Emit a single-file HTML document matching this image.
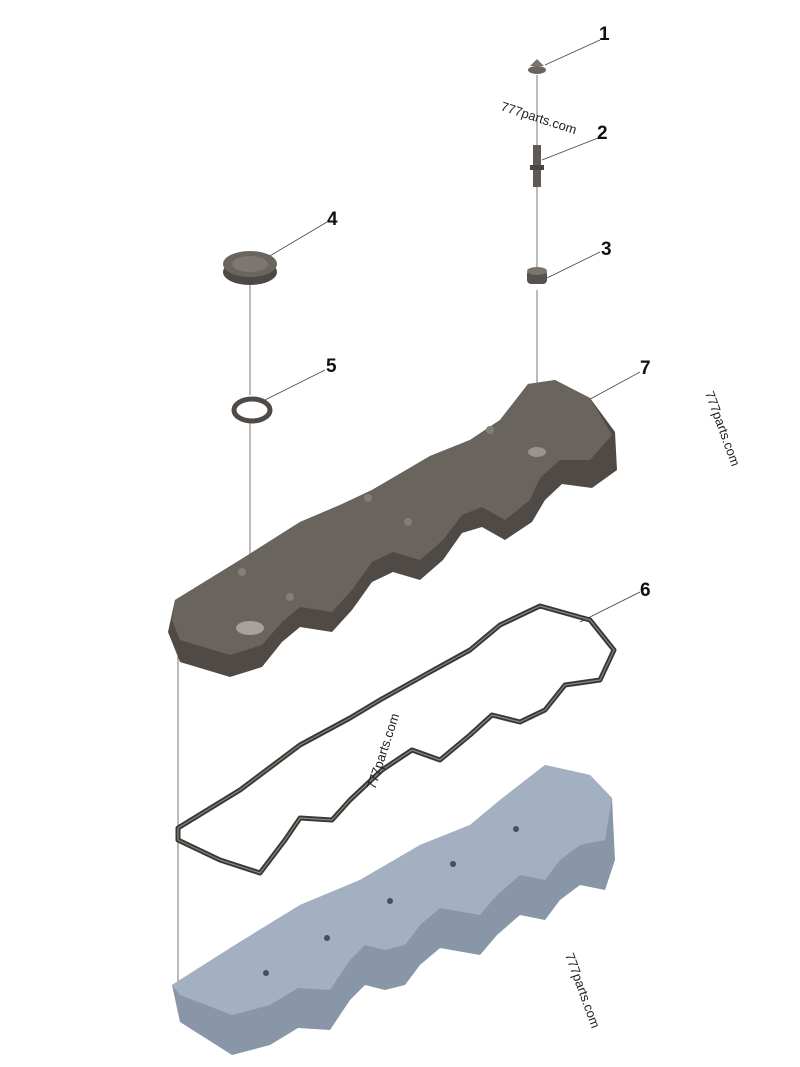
<!DOCTYPE html>
<html><head><meta charset="utf-8"><style>
html,body{margin:0;padding:0;background:#fff;}
svg{display:block;}
text{font-family:"Liberation Sans",sans-serif;}
</style></head><body>
<svg width="800" height="1067" viewBox="0 0 800 1067" xmlns="http://www.w3.org/2000/svg">
<g stroke="#555" stroke-width="0.8">
<line x1="537" y1="75" x2="537" y2="145"/>
<line x1="537" y1="185" x2="537" y2="270"/>
<line x1="537" y1="290" x2="537" y2="450"/>
<line x1="250" y1="285" x2="250" y2="395"/>
<line x1="250" y1="420" x2="250" y2="625"/>
<line x1="178" y1="640" x2="178" y2="990"/>
</g>
<g stroke="#444" stroke-width="0.8">
<line x1="545" y1="65" x2="600" y2="40"/>
<line x1="542" y1="160" x2="598" y2="138"/>
<line x1="547" y1="278" x2="600" y2="252"/>
<line x1="268" y1="257" x2="327" y2="222"/>
<line x1="265" y1="400" x2="325" y2="370"/>
<line x1="583" y1="403" x2="640" y2="372"/>
<line x1="580" y1="622" x2="640" y2="592"/>
</g>
<g font-weight="bold" font-size="19" fill="#111">
<text x="599" y="40">1</text>
<text x="597" y="139">2</text>
<text x="601" y="255">3</text>
<text x="327" y="225">4</text>
<text x="326" y="372">5</text>
<text x="640" y="374">7</text>
<text x="640" y="596">6</text>
</g>
<ellipse cx="537" cy="70" rx="9" ry="4" fill="#6b6560"/>
<path d="M530,66 L537,59 L544,66 Z" fill="#7a746e"/>
<rect x="533" y="145" width="8" height="42" fill="#5f5a55"/>
<rect x="530" y="165" width="14" height="5" fill="#4a4642"/>
<rect x="527" y="270" width="20" height="14" rx="4" fill="#57524d"/>
<ellipse cx="537" cy="271" rx="10" ry="4" fill="#7a746e"/>
<ellipse cx="250" cy="272" rx="27" ry="13" fill="#4c4843"/>
<ellipse cx="250" cy="264" rx="27" ry="13" fill="#6a655f"/>
<ellipse cx="250" cy="264" rx="18" ry="8" fill="#7d7771"/>
<ellipse cx="252" cy="410" rx="18" ry="11" fill="none" stroke="#4f4a45" stroke-width="5"/>
<path d="M175,600 L240,560 L300,522 L340,505 L372,490 L430,456 L470,440 L500,420 L528,384 L555,380 L590,398 L615,432 L617,470 L592,488 L562,484 L545,500 L532,522 L505,540 L482,527 L462,533 L443,560 L420,580 L393,572 L372,582 L352,610 L332,632 L300,627 L282,642 L262,667 L230,677 L180,662 L168,632 Z" fill="#4f4a45"/>
<path d="M175,600 L240,560 L300,522 L340,505 L372,490 L430,456 L470,440 L500,420 L528,384 L555,380 L590,398 L612,435 L590,460 L560,460 L540,478 L530,500 L505,520 L482,507 L462,515 L443,540 L420,560 L393,552 L372,562 L352,590 L332,612 L300,607 L282,622 L262,645 L230,655 L180,640 L172,620 Z" fill="#6a645e"/>
<ellipse cx="250" cy="628" rx="14" ry="7" fill="#a8a29c"/>
<ellipse cx="537" cy="452" rx="9" ry="5" fill="#9a948e"/>
<g fill="#847e78"><circle cx="242" cy="572" r="4"/><circle cx="290" cy="597" r="4"/><circle cx="368" cy="498" r="4"/><circle cx="408" cy="522" r="4"/><circle cx="490" cy="430" r="4"/></g>
<g fill="none" stroke-linejoin="round">
<path id="g6" d="M178,828 L240,790 L300,745 L350,718 L380,700 L430,672 L470,650 L500,625 L540,606 L590,620 L614,650 L600,680 L565,685 L545,710 L520,722 L492,715 L470,735 L440,760 L412,750 L382,770 L350,800 L332,820 L300,818 L285,840 L260,873 L220,860 L178,840 Z" stroke="#3a3633" stroke-width="5"/>
<path d="M178,828 L240,790 L300,745 L350,718 L380,700 L430,672 L470,650 L500,625 L540,606 L590,620 L614,650 L600,680 L565,685 L545,710 L520,722 L492,715 L470,735 L440,760 L412,750 L382,770 L350,800 L332,820 L300,818 L285,840 L260,873 L220,860 L178,840 Z" stroke="#8a8580" stroke-width="1.2"/>
</g>
<path d="M172,985 L235,945 L300,905 L360,880 L420,845 L470,825 L500,800 L545,765 L590,775 L612,798 L615,860 L605,890 L580,885 L560,900 L545,920 L520,915 L497,935 L480,955 L440,948 L420,965 L405,985 L385,990 L365,985 L350,1000 L330,1030 L298,1028 L270,1045 L232,1055 L180,1022 Z" fill="#8996a8"/>
<path d="M172,985 L235,945 L300,905 L360,880 L420,845 L470,825 L500,800 L545,765 L590,775 L612,798 L605,840 L580,845 L560,860 L545,880 L520,875 L497,895 L480,915 L440,908 L420,925 L405,945 L385,950 L365,945 L350,960 L330,990 L298,988 L270,1005 L232,1015 L180,995 Z" fill="#a3b0c2"/>
<g fill="#4a4e56"><circle cx="516" cy="829" r="3"/><circle cx="453" cy="864" r="3"/><circle cx="390" cy="901" r="3"/><circle cx="327" cy="938" r="3"/><circle cx="266" cy="973" r="3"/></g>
<g font-size="13" fill="#222">
<text x="500" y="110" transform="rotate(18 500 110)">777parts.com</text>
<text transform="translate(705,393) rotate(70)">777parts.com</text>
<text transform="translate(375,790) rotate(-72)">777parts.com</text>
<text transform="translate(565,955) rotate(70)">777parts.com</text>
</g>
</svg>
</body></html>
